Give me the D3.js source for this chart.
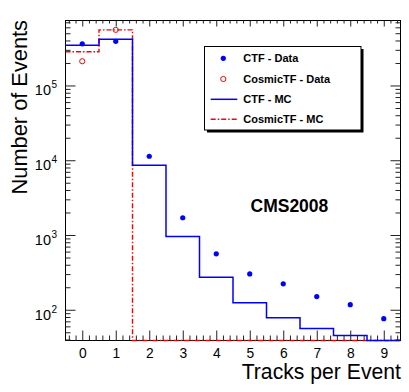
<!DOCTYPE html>
<html>
<head>
<meta charset="utf-8">
<script src="https://cdn.jsdelivr.net/npm/d3@7"></script>
<style>
  html, body { margin: 0; padding: 0; background: #fff; }
  svg { display: block; font-family: "Liberation Sans", Arial, Helvetica, sans-serif; }
</style>
</head>
<body>
<svg id="chart" width="409" height="392"></svg>
<script>
// ---- data ----
const bins = [0, 1, 2, 3, 4, 5, 6, 7, 8, 9];
const ctfData = [361000, 390000, 11300, 1700, 560, 302, 222, 150, 117, 76];
const cosmicData = [211000, 555000];            // only bins 0,1 visible
const ctfMC = [345000, 415000, 8580, 958, 272, 124, 78, 56, 45.4, 30];
const cosmicMC = [282000, 555000, 0, 0, 0, 0, 0, 0, 0, 0];
const xTickLabels = ["0", "1", "2", "3", "4", "5", "6", "7", "8", "9"];
const yDecades = [2, 3, 4, 5];
const legendLabels = ["CTF - Data", "CosmicTF - Data", "CTF - MC", "CosmicTF - MC"];

// ---- layout ----
const L = 65.5, R = 400.5, T = 20.5, B = 340.5;
const yMin = 38.8, yMax = 7.4e5;
const svg = d3.select("#chart");

const x = d3.scaleLinear().domain([-0.5, 9.5]).range([L, R]);
const y = d3.scaleLog().domain([yMin, yMax]).range([B, T]).clamp(true);
const yv = v => y(Math.max(v, yMin));

const BLUE = "#0000ff", RED = "#ff0000";

// frame
svg.append("rect").attr("x", L).attr("y", T).attr("width", R - L).attr("height", B - T)
  .attr("fill", "none").attr("stroke", "#000").attr("stroke-width", 1);

// step path builder
function stepPath(vals) {
  const pts = [];
  vals.forEach((v, i) => {
    pts.push([x(bins[i] - 0.5), yv(v)]);
    pts.push([x(bins[i] + 0.5), yv(v)]);
  });
  return d3.line()(pts);
}

// histograms (red under blue)
svg.append("path").attr("d", stepPath(cosmicMC)).attr("fill", "none")
  .attr("stroke", RED).attr("stroke-width", 1.4).attr("stroke-dasharray", "5,2,1.5,2");
svg.append("path").attr("d", stepPath(ctfMC)).attr("fill", "none")
  .attr("stroke", BLUE).attr("stroke-width", 1.5);

// markers
svg.selectAll(".cos").data(cosmicData).enter().append("circle")
  .attr("cx", (d, i) => x(bins[i])).attr("cy", d => yv(d)).attr("r", 2.6)
  .attr("fill", "none").attr("stroke", RED).attr("stroke-width", 1);
svg.selectAll(".ctf").data(ctfData).enter().append("circle")
  .attr("cx", (d, i) => x(bins[i])).attr("cy", d => yv(d)).attr("r", 2.6)
  .attr("fill", BLUE);

// ---- axes ----
const tickCol = "#222";
const minorX = d3.range(-4, 48).map(i => i * 0.2).filter(v => v > -0.5 && v < 9.5 && Math.abs(v - Math.round(v)) > 1e-6);
const minorY = [];
for (let d = 1; d <= 5; d++) for (let k = 2; k <= 9; k++) {
  const v = k * Math.pow(10, d);
  if (v > yMin && v < yMax) minorY.push(v);
}
function styleAxis(g) {
  g.select(".domain").remove();
  g.selectAll(".tick line").attr("stroke", tickCol).attr("stroke-width", 1);
}

// bottom
svg.append("g").attr("transform", `translate(0,${B})`)
  .call(d3.axisBottom(x).tickValues(bins).tickSize(-10).tickPadding(7.5)
    .tickFormat((d, i) => xTickLabels[i]))
  .call(styleAxis)
  .call(g => g.selectAll("text").attr("font-size", 13.8).attr("fill", "#000")
    .attr("font-family", "Liberation Sans, Arial, sans-serif"));
svg.append("g").attr("transform", `translate(0,${B})`)
  .call(d3.axisBottom(x).tickValues(minorX).tickSize(-5).tickFormat(""))
  .call(styleAxis);
// top
svg.append("g").attr("transform", `translate(0,${T})`)
  .call(d3.axisTop(x).tickValues(bins).tickSize(-6).tickFormat(""))
  .call(styleAxis);
svg.append("g").attr("transform", `translate(0,${T})`)
  .call(d3.axisTop(x).tickValues(minorX).tickSize(-3).tickFormat(""))
  .call(styleAxis);
// left
svg.append("g").attr("transform", `translate(${L},0)`)
  .call(d3.axisLeft(y).tickValues(yDecades.map(e => Math.pow(10, e))).tickSize(-10).tickFormat(""))
  .call(styleAxis);
svg.append("g").attr("transform", `translate(${L},0)`)
  .call(d3.axisLeft(y).tickValues(minorY).tickSize(-5).tickFormat(""))
  .call(styleAxis);
// right
svg.append("g").attr("transform", `translate(${R},0)`)
  .call(d3.axisRight(y).tickValues(yDecades.map(e => Math.pow(10, e))).tickSize(-10).tickFormat(""))
  .call(styleAxis);
svg.append("g").attr("transform", `translate(${R},0)`)
  .call(d3.axisRight(y).tickValues(minorY).tickSize(-5).tickFormat(""))
  .call(styleAxis);

// y labels 10^n
yDecades.forEach(e => {
  const t = svg.append("text").attr("x", 51).attr("y", y(Math.pow(10, e)) + 10)
    .attr("text-anchor", "end").attr("font-size", 14.5).attr("fill", "#000");
  t.text("10");
  svg.append("text").attr("x", 51.5).attr("y", y(Math.pow(10, e)) + 3)
    .attr("font-size", 10).attr("fill", "#000").text(String(e));
});

// axis titles
svg.append("text").attr("x", 401).attr("y", 379).attr("text-anchor", "end")
  .attr("font-size", 21.2).attr("fill", "#000").text("Tracks per Event");
svg.append("text").attr("transform", "translate(26.5,20) rotate(-90)")
  .attr("text-anchor", "end").attr("font-size", 21.8).attr("fill", "#000").text("Number of Events");

// CMS2008
svg.append("text").attr("x", 250.5).attr("y", 212).attr("font-size", 17.5)
  .attr("font-weight", "bold").attr("fill", "#000").text("CMS2008");

// ---- legend ----
const lg = { x0: 204, y0: 46, x1: 360.5, y1: 129.5 };
svg.append("rect").attr("x", lg.x0 + 3).attr("y", lg.y0 + 3)
  .attr("width", lg.x1 - lg.x0).attr("height", lg.y1 - lg.y0).attr("fill", "#000");
svg.append("rect").attr("x", lg.x0 + 0.5).attr("y", lg.y0 + 0.5)
  .attr("width", lg.x1 - lg.x0).attr("height", lg.y1 - lg.y0)
  .attr("fill", "#fff").attr("stroke", "#000").attr("stroke-width", 1);
const rowY = [58.3, 79, 99.3, 119.3];
legendLabels.forEach((lab, i) => {
  svg.append("text").attr("x", 243.3).attr("y", rowY[i] + 4).attr("font-size", 11)
    .attr("font-weight", "bold").attr("fill", "#000").text(lab);
});
svg.append("circle").attr("cx", 223.3).attr("cy", rowY[0]).attr("r", 2.6).attr("fill", BLUE);
svg.append("circle").attr("cx", 223.3).attr("cy", rowY[1]).attr("r", 2.6)
  .attr("fill", "none").attr("stroke", RED).attr("stroke-width", 1);
svg.append("line").attr("x1", 210.7).attr("x2", 237.3).attr("y1", rowY[2]).attr("y2", rowY[2])
  .attr("stroke", BLUE).attr("stroke-width", 1.5);
svg.append("line").attr("x1", 210.7).attr("x2", 237.3).attr("y1", rowY[3]).attr("y2", rowY[3])
  .attr("stroke", RED).attr("stroke-width", 1.4).attr("stroke-dasharray", "5,2,1.5,2");
</script>
</body>
</html>
